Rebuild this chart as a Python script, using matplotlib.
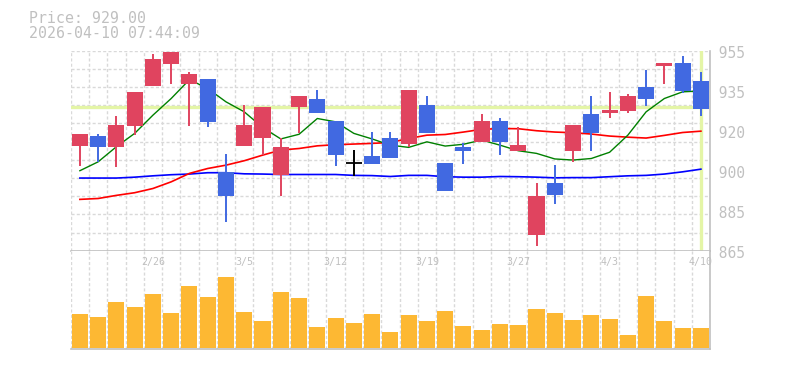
import matplotlib.pyplot as plt
import numpy as np

# daily candles, 2026-02-19 .. 2026-04-10
dates = ["2/19", "2/20", "2/24", "2/25", "2/26", "2/27", "3/2", "3/3", "3/4", "3/5",
         "3/6", "3/9", "3/10", "3/11", "3/12", "3/13", "3/16", "3/17", "3/18", "3/19",
         "3/23", "3/24", "3/25", "3/26", "3/27", "3/30", "3/31", "4/1", "4/2", "4/3",
         "4/6", "4/7", "4/8", "4/9", "4/10"]
opens = [912, 916.5, 911.5, 921, 939, 949, 940, 942.5, 900.5, 912,
         915.5, 899, 929.5, 933.5, 923.5, 904.5, 907.5, 915.5, 913, 930.5,
         904.5, 911.5, 914, 923.5, 910, 872, 895.5, 910, 926.5, 927,
         928, 938.5, 948, 949.5, 941.5]
highs = [917.5, 917.5, 925.5, 936.5, 953.5, 954.5, 945.5, 942.5, 908.5, 930.5,
         929.5, 915.5, 934.5, 937.5, 923.5, 910.5, 918.5, 918.5, 937.5, 934.5,
         904.5, 913.5, 926.5, 924.5, 920.5, 895.5, 903.5, 921.5, 934.5, 936.5,
         935.5, 946.5, 949.5, 952.5, 945.5]
lows = [903, 905, 902.5, 917, 939, 940, 921, 920.5, 878, 912,
        908, 889.5, 918, 927, 903, 898.5, 904, 906.5, 911.5, 918,
        892, 904, 914, 908, 910, 867, 886, 905, 910, 924.5,
        927, 930, 940, 936, 925.5]
closes = [917.5, 911.5, 921.5, 936.5, 951.5, 954.5, 944.5, 923, 889.5, 921.5,
          929.5, 911.5, 934.5, 927, 908, 904.5, 904, 906.5, 937.5, 918,
          892, 910, 923.5, 914, 912.5, 889.5, 890, 921.5, 918, 928.5,
          934.5, 933.5, 949.5, 937, 929]
ma_short = [901, 905, 911.8, 917.8, 926, 933.5, 942, 938, 932, 927.5,
            920.5, 915.3, 917.4, 924.5, 923, 917.8, 915.3, 912.5, 911.5, 914,
            912.1, 912.9, 914.8, 912.5, 910, 908.8, 906.3, 905.8, 906.5, 909.3,
            917, 927.5, 933.5, 936.5, 936.9]
ma_mid = [888.1, 888.5, 889.9, 891.1, 893, 896, 899.8, 902, 903.5, 905.5,
          908, 910.3, 911, 912.2, 912.7, 913, 913.3, 913.7, 915.5, 917,
          917.3, 918.4, 919.6, 920, 919.9, 919, 918.4, 918.1, 917.5, 916.6,
          916.1, 915.7, 916.9, 918.2, 918.8]
ma_long = [897.7, 897.7, 897.7, 898.1, 898.7, 899.2, 899.5, 900.1, 900.1, 899.6,
           899.5, 899.3, 899.3, 899.3, 899.3, 898.9, 898.8, 898.4, 898.9, 898.9,
           898.3, 898.1, 898.1, 898.4, 898.3, 898.1, 897.8, 897.9, 897.9, 898.3,
           898.7, 898.9, 899.5, 900.5, 901.7]
volumes = [102000, 93000, 138000, 123000, 162000, 105000, 186000, 153000, 213000, 108000,
           81000, 168000, 150000, 63000, 90000, 75000, 102000, 48000, 99000, 81000,
           111000, 66000, 54000, 72000, 69000, 117000, 105000, 84000, 99000, 87000,
           39000, 156000, 81000, 60000, 60000]
date_ticks = ["2/26", "3/5", "3/12", "3/19", "3/27", "4/3", "4/10"]
price_ticks = ["865", "885", "900", "920", "935", "955"]
last_price = 929.00
stamp = "2026-04-10 07:44:09"

UP = "#e0445f"
DOWN = "#4169e1"
GRAY = "#c0c0c0"
GRID = "#d9d9d9"
CROSS = "#e4f5a6"
MONO = "DejaVu Sans Mono"

x = np.arange(len(dates))
o = np.array(opens)
c = np.array(closes)

fig = plt.figure(figsize=(7.85, 3.70), dpi=100)
ax = fig.add_axes([0.0901, 0.3224, 0.8144, 0.5405])
axv = fig.add_axes([0.0901, 0.0559, 0.8144, 0.2665])

for a in (ax, axv):
    a.set_xlim(-0.5, len(dates) - 0.5)
    a.set_xticks(np.arange(len(dates) + 1) - 0.5)
    a.tick_params(length=0, labelbottom=False, labelleft=False)
    a.grid(axis="x", color=GRID, linestyle=(0, (2.2, 1.6)), linewidth=1)
    a.set_axisbelow(True)
    for s in ("left", "top"):
        a.spines[s].set_visible(False)
    for s in ("right", "bottom"):
        a.spines[s].set_color(GRAY)
        a.spines[s].set_linewidth(1.2)

# price panel
ax.set_ylim(865, 955)
ax.set_yticks(np.linspace(865, 955, 12))
ax.grid(axis="y", color=GRID, linestyle=(0, (2.2, 1.6)), linewidth=1)
for val, lab in zip(np.linspace(865, 955, 6), price_ticks):
    ax.text(len(dates) - 0.5, val - 1.2, " " + lab, ha="left", va="center",
            color=GRAY, fontsize=10.5, family=MONO)

ax.axhline(last_price + 0.5, color=CROSS, linewidth=2.4, zorder=1)
ax.axvline(x[-1], color=CROSS, linewidth=2.4, zorder=1)

ax.plot(x, ma_long, color="#0000ff", linewidth=1.2, zorder=2)
ax.plot(x, ma_mid, color="#ff0000", linewidth=1.2, zorder=2)
ax.plot(x, ma_short, color="#008000", linewidth=1.0, zorder=2)

colors = [UP if cc > oo else DOWN if cc < oo else "black" for oo, cc in zip(o, c)]
ax.vlines(x, lows, highs, colors=colors, linewidth=1.4, zorder=3)
ax.bar(x, c - o, bottom=o, width=0.88, color=colors, zorder=4)
doji = o == c
ax.hlines(o[doji], x[doji] - 0.44, x[doji] + 0.44, colors="black", linewidth=1.3, zorder=4)

# volume panel
axv.set_ylim(-4000, 292000)
axv.set_yticks([])
axv.bar(x, volumes, width=0.88, color="#fdb833", zorder=3)
for lab in date_ticks:
    axv.text(dates.index(lab), 0.885, lab, transform=axv.get_xaxis_transform(),
             ha="center", va="center", color=GRAY, fontsize=7.2, family=MONO)

fig.text(29 / 785, 1 - 22.7 / 370, f"Price: {last_price:.2f}", color=GRAY,
         fontsize=10.7, family=MONO, va="baseline")
fig.text(29 / 785, 1 - 37.7 / 370, stamp, color=GRAY,
         fontsize=10.7, family=MONO, va="baseline")

fig.savefig("out.png", dpi=100)
